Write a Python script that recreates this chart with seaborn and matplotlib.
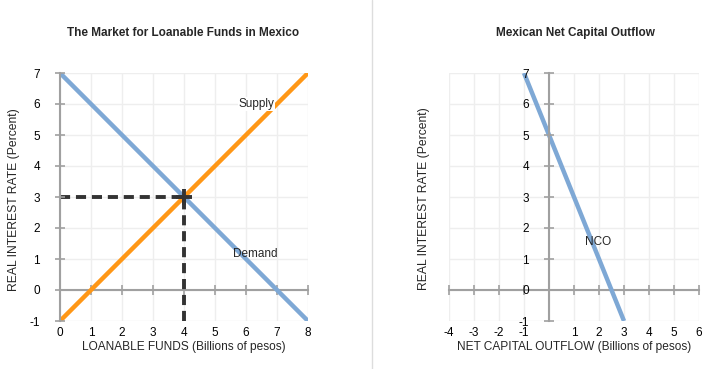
import matplotlib
matplotlib.use("Agg")
import matplotlib.pyplot as plt
from matplotlib.lines import Line2D
import seaborn as sns

# Data
loanable_q = [0, 8]
demand_rate = [7, -1]
supply_rate = [-1, 7]
eq_q, eq_r = 4, 3

nco_x = [-1, 3]
nco_rate = [7, -1]

left_xticks = [0, 1, 2, 3, 4, 5, 6, 7, 8]
right_xticks = [-4, -3, -2, -1, 0, 1, 2, 3, 4, 5, 6]
right_xlabels = ["-4", "-3", "-2", "-1", "", "1", "2", "3", "4", "5", "6"]
rate_ticks = [-1, 0, 1, 2, 3, 4, 5, 6, 7]

blue = "#7ea8d5"
orange = "#ff9716"
dark = "#333333"
axis_gray = "#a0a0a0"

sns.set_style("white")
plt.rcParams['font.family'] = ['Liberation Sans', 'DejaVu Sans']
plt.rcParams['font.size'] = 8.5
plt.rcParams['axes.unicode_minus'] = False

fig = plt.figure(figsize=(7.11, 3.69), dpi=100)
ax1 = fig.add_axes([60/711, 1-321/369, 248/711, 248/369])
ax2 = fig.add_axes([449/711, 1-321/369, 250/711, 248/369])

def style_axes(ax, xticks, xlabels, xlim, yaxis_at):
    ax.set_xlim(*xlim)
    ax.set_ylim(-1, 7)
    for s in ax.spines.values():
        s.set_visible(False)
    ax.set_xticks(xticks)
    ax.set_xticklabels(xlabels)
    ax.set_yticks(rate_ticks)
    ax.tick_params(axis='x', length=0, pad=4, labelsize=8.5, colors='black')
    ax.tick_params(axis='y', left=False, labelleft=False)
    ax.grid(True, color="#eeeeee", linewidth=1)
    ax.set_axisbelow(True)
    # horizontal axis line at rate 0
    frac_y = (0 - (-1)) / 8
    sx = ax.secondary_xaxis(frac_y)
    sx.set_xticks(xticks)
    sx.tick_params(axis='x', direction='inout', length=7, width=1.2,
                   color=axis_gray, labelbottom=False, labeltop=False)
    for s in sx.spines.values():
        s.set_visible(False)
    sx.spines['bottom'].set_visible(True)
    sx.spines['bottom'].set_color(axis_gray)
    sx.spines['bottom'].set_linewidth(1.5)
    # vertical axis line at x = 0
    frac_x = (yaxis_at - xlim[0]) / (xlim[1] - xlim[0])
    sy = ax.secondary_yaxis(frac_x)
    sy.set_yticks(rate_ticks)
    sy.tick_params(axis='y', direction='inout', length=7, width=1.2,
                   color=axis_gray, labelsize=8.5, pad=11, labelcolor='black')
    for s in sy.spines.values():
        s.set_visible(False)
    sy.spines['left'].set_visible(True)
    sy.spines['left'].set_color(axis_gray)
    sy.spines['left'].set_linewidth(1.5)
    sy.set_zorder(10)
    sx.set_zorder(1)

style_axes(ax1, left_xticks, [str(t) for t in left_xticks], (0, 8), 0)
style_axes(ax2, right_xticks, right_xlabels, (-4, 6), 0)

# Left chart: loanable funds market
sns.lineplot(x=loanable_q, y=demand_rate, ax=ax1, color=blue, linewidth=3.2,
             solid_capstyle='butt', zorder=3)
sns.lineplot(x=loanable_q, y=supply_rate, ax=ax1, color=orange, linewidth=3.2,
             solid_capstyle='butt', zorder=3)
ax1.plot([0, eq_q], [eq_r, eq_r], color=dark, linewidth=2.8,
         linestyle=(0, (2.6, 1.5)), zorder=4)
ax1.plot([eq_q, eq_q], [-1, eq_r], color=dark, linewidth=2.8,
         linestyle=(0, (2.6, 1.5)), zorder=4)
ax1.plot([eq_q], [eq_r], marker='+', markersize=11, markeredgewidth=2.8,
         color=dark, zorder=5)
ax1.text(6.35, 6.0, "Supply", ha='center', va='center', fontsize=8.5, zorder=6,
         bbox=dict(facecolor='white', edgecolor='none', pad=0.5))
ax1.text(6.3, 1.15, "Demand", ha='center', va='center', fontsize=8.5, zorder=6)
ax1.set_xlabel("LOANABLE FUNDS (Billions of pesos)", fontsize=8.6, labelpad=2)

# Right chart: net capital outflow
sns.lineplot(x=nco_x, y=nco_rate, ax=ax2, color=blue, linewidth=3.2,
             solid_capstyle='butt', zorder=3)
ax2.text(1.95, 1.55, "NCO", ha='center', va='center', fontsize=8.5, zorder=6)
ax2.set_xlabel("NET CAPITAL OUTFLOW (Billions of pesos)", fontsize=8.6, labelpad=2)

for ax in (ax1, ax2):
    ax.set_ylabel("")

fig.text(14/711, 1-200/369, "REAL INTEREST RATE (Percent)", rotation=90,
         ha='center', va='center', fontsize=8.7)
fig.text(424/711, 1-199/369, "REAL INTEREST RATE (Percent)", rotation=90,
         ha='center', va='center', fontsize=8.7)

fig.text(183/711, 1-33/369, "The Market for Loanable Funds in Mexico",
         ha='center', va='center', fontsize=8.5, fontweight='bold')
fig.text(575/711, 1-33/369, "Mexican Net Capital Outflow",
         ha='center', va='center', fontsize=8.5, fontweight='bold')

fig.add_artist(Line2D([372/711, 372/711], [0, 1], color="#dddddd", linewidth=1))

fig.savefig("out.png", dpi=100, facecolor='white')
